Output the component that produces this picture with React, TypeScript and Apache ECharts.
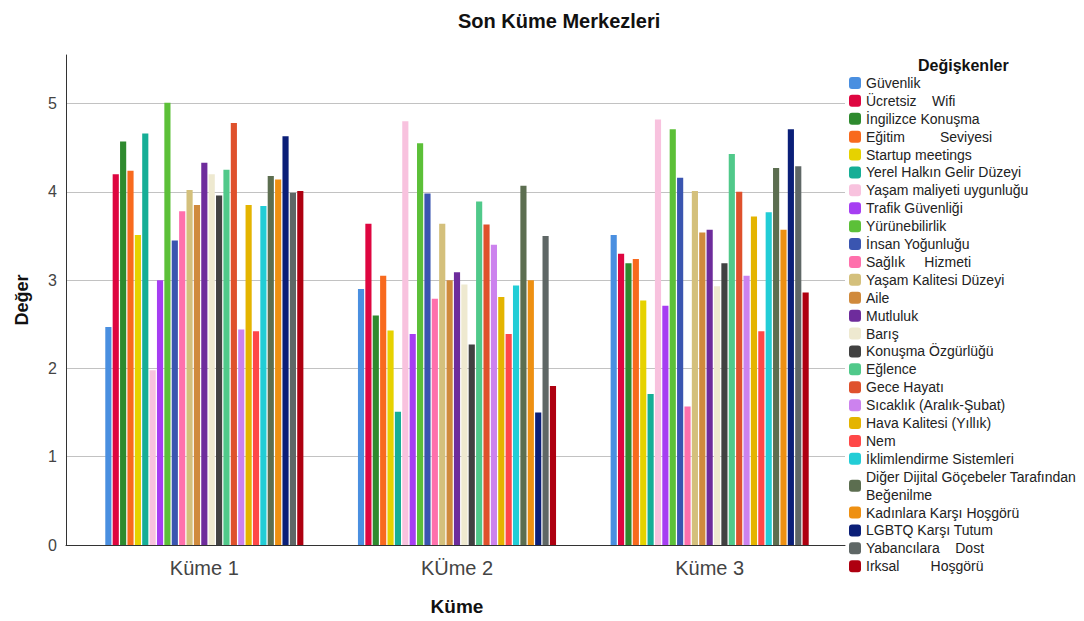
import React, { useEffect, useRef } from 'react';
import * as echarts from 'echarts';

const clusters = ['Küme 1', 'KÜme 2', 'Küme 3'];

const variables = [
  'Güvenlik',
  'Ücretsiz    Wifi',
  'İngilizce Konuşma',
  'Eğitim         Seviyesi',
  'Startup meetings',
  'Yerel Halkın Gelir Düzeyi',
  'Yaşam maliyeti uygunluğu',
  'Trafik Güvenliği',
  'Yürünebilirlik',
  'İnsan Yoğunluğu',
  'Sağlık     Hizmeti',
  'Yaşam Kalitesi Düzeyi',
  'Aile',
  'Mutluluk',
  'Barış',
  'Konuşma Özgürlüğü',
  'Eğlence',
  'Gece Hayatı',
  'Sıcaklık (Aralık-Şubat)',
  'Hava Kalitesi (Yıllık)',
  'Nem',
  'İklimlendirme Sistemleri',
  'Diğer Dijital Göçebeler Tarafından\nBeğenilme',
  'Kadınlara Karşı Hoşgörü',
  'LGBTQ Karşı Tutum',
  'Yabancılara    Dost',
  'Irksal        Hoşgörü',
];

const kume1 = [2.47, 4.2, 4.57, 4.24, 3.51, 4.66, 1.98, 3.0, 5.01, 3.45, 3.78, 4.02, 3.85, 4.33, 4.2, 3.96, 4.25, 4.78, 2.44, 3.85, 2.42, 3.84, 4.18, 4.14, 4.63, 3.99, 4.01];
const kume2 = [2.9, 3.64, 2.6, 3.05, 2.43, 1.51, 4.8, 2.39, 4.55, 3.98, 2.79, 3.64, 3.0, 3.09, 2.95, 2.27, 3.89, 3.63, 3.4, 2.81, 2.39, 2.94, 4.07, 3.0, 1.5, 3.5, 1.8];
const kume3 = [3.51, 3.3, 3.19, 3.24, 2.77, 1.71, 4.82, 2.71, 4.71, 4.16, 1.57, 4.01, 3.54, 3.57, 2.93, 3.19, 4.43, 4.0, 3.05, 3.72, 2.42, 3.77, 4.27, 3.57, 4.71, 4.29, 2.86];

const colors = [
  '#4A8FE0', '#DE0640', '#2E8A2E', '#F86A1E', '#E6D200', '#16AE96', '#F8C2DE', '#A63EF2', '#5CC038',
  '#3A55B0', '#FF70AC', '#D4C07C', '#D08A3C', '#6E2C9C', '#EEE9D0', '#414141', '#50C98A', '#DF512C',
  '#CC82EE', '#E4B400', '#FF4848', '#22CDD6', '#5C6E50', '#EE9012', '#0B1F78', '#5F6766', '#AE0010',
];

const font = "'Liberation Sans', Arial, sans-serif";

export default function App() {
  const ref = useRef<HTMLDivElement>(null);
  useEffect(() => {
    const chart = echarts.init(ref.current as HTMLDivElement, null, { renderer: 'svg' });
    chart.setOption({
      animation: false,
      backgroundColor: '#ffffff',
      textStyle: { fontFamily: font },
      title: [
        {
          text: 'Son Küme Merkezleri',
          left: 458,
          top: 11,
          padding: 0,
          textStyle: { fontSize: 20, fontWeight: 'bold', color: '#111', fontFamily: font },
        },
        {
          text: 'Değişkenler',
          left: 918,
          top: 57,
          padding: 0,
          textStyle: { fontSize: 16, fontWeight: 'bold', color: '#111', fontFamily: font },
        },
      ],
      legend: {
        orient: 'vertical',
        left: 849,
        top: 74,
        padding: 0,
        itemGap: 0,
        itemWidth: 12,
        itemHeight: 12,
        icon: 'roundRect',
        selectedMode: false,
        textStyle: { fontSize: 14, lineHeight: 17.9, color: '#222', fontFamily: font },
        data: variables,
      },
      grid: [
        { left: 66, right: 239, top: 55, bottom: 76 },
        { left: 78, right: 248, top: 55, bottom: 76 },
      ],
      xAxis: [
        {
          type: 'category',
          gridIndex: 0,
          data: clusters,
          axisLine: { show: true, lineStyle: { color: '#333', width: 1 } },
          axisTick: { show: false },
          axisLabel: { show: false },
          splitLine: { show: false },
        },
        {
          type: 'category',
          gridIndex: 1,
          data: clusters,
          axisLine: { show: false },
          axisTick: { show: false },
          axisLabel: { fontSize: 20, color: '#444', margin: 13, fontFamily: font },
          name: 'Küme',
          nameLocation: 'middle',
          nameGap: 52,
          nameTextStyle: { fontSize: 19, fontWeight: 'bold', color: '#111', fontFamily: font },
        },
      ],
      yAxis: [
        {
          type: 'value',
          gridIndex: 0,
          min: 0,
          max: 5.55,
          interval: 1,
          axisLine: { show: true, lineStyle: { color: '#333', width: 1 } },
          axisTick: { show: false },
          axisLabel: { fontSize: 16, color: '#444', margin: 9, showMaxLabel: false, fontFamily: font },
          splitLine: { show: true, showMaxLine: false, showMinLine: false, lineStyle: { color: '#c2c2c2', width: 1 } },
          name: 'Değer',
          nameLocation: 'middle',
          nameGap: 35,
          nameTextStyle: { fontSize: 18, fontWeight: 'bold', color: '#111', fontFamily: font },
        },
        {
          type: 'value',
          gridIndex: 1,
          min: 0,
          max: 5.55,
          show: false,
          splitLine: { show: false },
        },
      ],
      series: variables.map((name, i) => ({
        type: 'bar',
        name,
        xAxisIndex: 1,
        yAxisIndex: 1,
        data: [kume1[i], kume2[i], kume3[i]],
        itemStyle: { color: colors[i] },
        barGap: '20%',
        barCategoryGap: '21.6%',
      })),
    });
    return () => chart.dispose();
  }, []);
  return (
    <div
      ref={ref}
      style={{ position: 'fixed', left: 0, top: 0, width: 1084, height: 621 }}
    />
  );
}
